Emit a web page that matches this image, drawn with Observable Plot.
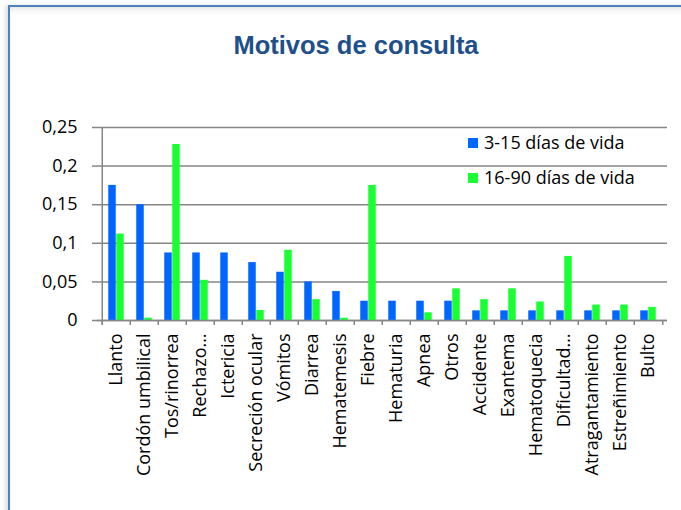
<!DOCTYPE html>
<html>
<head>
<meta charset="utf-8">
<script src="https://cdn.jsdelivr.net/npm/d3@7"></script>
<script src="https://cdn.jsdelivr.net/npm/@observablehq/plot@0.6"></script>
<style>
  html, body { margin: 0; padding: 0; background: #fff; }
  #wrap { position: relative; width: 681px; height: 510px; overflow: hidden; background: #fff; }
  #frame { position: absolute; left: 8px; top: 5px; width: 720px; height: 560px;
    border-left: 2px solid #4f81bd; border-top: 2px solid #4f81bd;
    box-shadow: -3px 0 4px rgba(0,0,0,0.12), inset 0 6px 6px -4px rgba(0,0,0,0.12); }
  #title { position: absolute; left: 0; top: 33px; width: 712px; text-align: center;
    font-family: "Liberation Sans", Arial, sans-serif; font-weight: bold;
    font-size: 25.5px; line-height: 25.5px; color: #214f8a; }
  #chart { position: absolute; left: 0; top: 100px; }
  .leg { position: absolute; font-family: "Open Sans", sans-serif; font-size: 18px; line-height: 18px; color: #000; white-space: nowrap; }
  .sw { position: absolute; width: 10px; height: 10px; }
</style>
</head>
<body>
<div id="wrap">
  <div id="frame"></div>
  <div id="title">Motivos de consulta</div>
  <div id="chart"></div>
  <div class="sw" id="sw1" style="left:468px; top:138px;"></div>
  <div class="leg" id="lg1" style="left:484px; top:133px;"></div>
  <div class="sw" id="sw2" style="left:468px; top:173px;"></div>
  <div class="leg" id="lg2" style="left:484px; top:168px;"></div>
</div>
<script>
const categories = ["Llanto", "Cordón umbilical", "Tos/rinorrea", "Rechazo…", "Ictericia",
  "Secreción ocular", "Vómitos", "Diarrea", "Hematemesis", "Fiebre", "Hematuria", "Apnea",
  "Otros", "Accidente", "Exantema", "Hematoquecia", "Dificultad…", "Atragantamiento",
  "Estreñimiento", "Bulto"];
const seriesNames = ["3-15 días de vida", "16-90 días de vida"];
const valuesA = [0.175, 0.15, 0.0875, 0.0875, 0.0875, 0.075, 0.0625, 0.05, 0.0375, 0.025,
  0.025, 0.025, 0.025, 0.0125, 0.0125, 0.0125, 0.0125, 0.0125, 0.0125, 0.0125];
const valuesB = [0.112, 0.003, 0.228, 0.052, 0, 0.013, 0.091, 0.027, 0.003, 0.175,
  0, 0.01, 0.041, 0.027, 0.041, 0.024, 0.083, 0.02, 0.02, 0.017];
const yTicks = [0, 0.05, 0.1, 0.15, 0.2, 0.25];
const colors = ["#0066ff", "#1aff33"];

const rows = categories.map((c, i) => ({cat: c, a: valuesA[i], b: valuesB[i]}));

const W = 681, H = 410, mL = 97, mR = 14, mT = 27, mB = 190;
const bw = (W - mL - mR) / categories.length;
const barW = 8;
const side = (bw - 2 * barW) / 2;
const plotH = H - mT - mB;
const grey = "#868686";

const chart = Plot.plot({
  width: W, height: H,
  marginLeft: mL, marginRight: mR, marginTop: mT, marginBottom: mB,
  style: {fontFamily: "Open Sans, sans-serif", fontSize: "18px", color: "#000", background: "transparent", overflow: "visible"},
  x: {domain: categories, paddingInner: 0, paddingOuter: 0, label: null},
  y: {domain: [0, 0.25], label: null},
  marks: [
    Plot.gridY(yTicks, {stroke: grey, strokeOpacity: 1, strokeWidth: 1.5}),
    Plot.axisY(yTicks, {tickSize: 5, tickPadding: 15, stroke: grey, strokeWidth: 1.5,
      tickFormat: d => String(d).replace(".", ","), label: null, fontSize: 18}),
    Plot.ruleX([categories[0]], {dx: -bw / 2, stroke: grey, strokeWidth: 1.5, insetBottom: -5}),
    Plot.ruleX(categories, {x: d => d, dx: -bw / 2, stroke: grey, strokeWidth: 1.5, insetTop: plotH, insetBottom: -5}),
    Plot.ruleX([categories[categories.length - 1]], {dx: bw / 2, stroke: grey, strokeWidth: 1.5, insetTop: plotH, insetBottom: -5}),
    Plot.axisX({tickSize: 0, tickRotate: -90, tickPadding: 13, label: null, fontSize: 18}),
    Plot.barY(rows, {x: "cat", y: "a", fill: colors[0], insetLeft: side, insetRight: side + barW}),
    Plot.barY(rows, {x: "cat", y: "b", fill: colors[1], insetLeft: side + barW, insetRight: side}),
    Plot.ruleY([0], {stroke: grey, strokeWidth: 1.5})
  ]
});
document.getElementById("chart").appendChild(chart);
document.getElementById("sw1").style.background = colors[0];
document.getElementById("sw2").style.background = colors[1];
document.getElementById("lg1").textContent = seriesNames[0];
document.getElementById("lg2").textContent = seriesNames[1];
</script>
</body>
</html>
